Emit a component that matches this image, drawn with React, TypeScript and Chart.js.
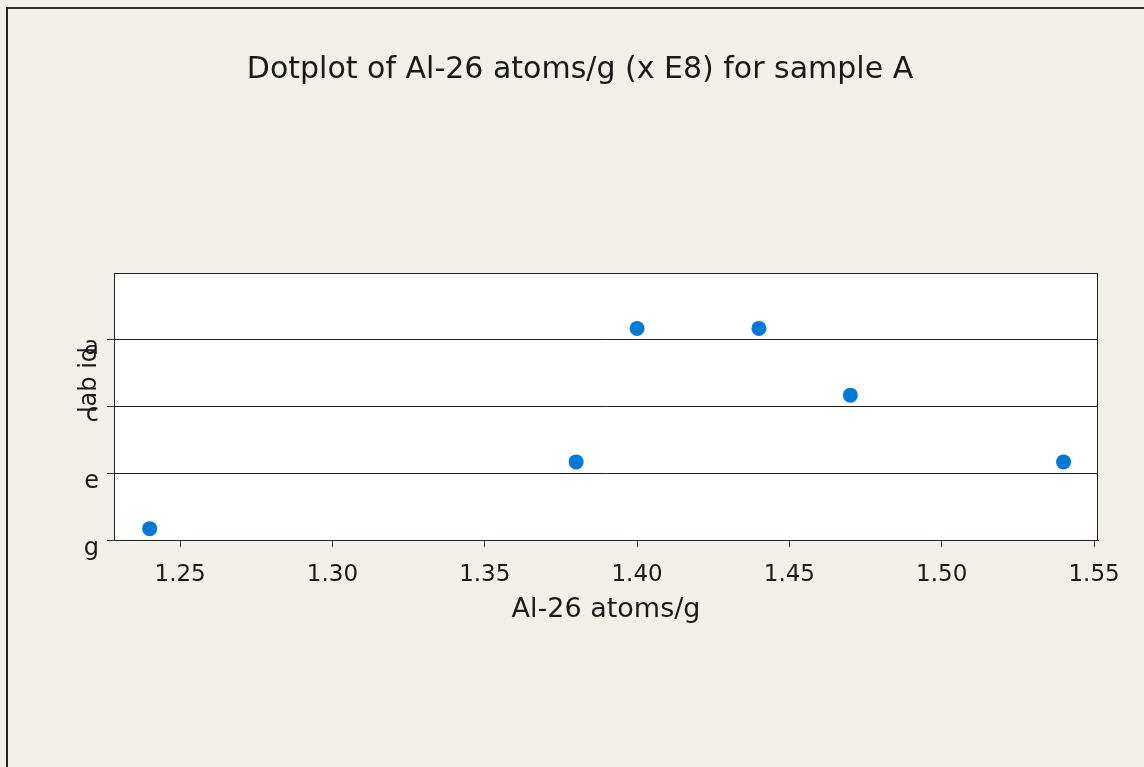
import React, { useEffect, useRef } from "react";
import { Chart, registerables } from "chart.js";

Chart.register(...registerables);

// Data
const labCategories = ["g", "e", "c", "a"]; // bottom to top
const sampleLabs = ["g", "e", "e", "c", "a", "a"];
const sampleAtoms = [1.24, 1.38, 1.54, 1.47, 1.4, 1.44];
const xTickValues = [1.25, 1.3, 1.35, 1.4, 1.45, 1.5, 1.55];
const chartTitle = "Dotplot of Al-26 atoms/g (x E8) for sample A";
const xTitle = "Al-26 atoms/g";
const yTitle = "lab id";

const DOT_OFFSET = 0.17;
const FONT = '"DejaVu Sans", Verdana, sans-serif';
const BG = "#F2EFE8";
const TEXT = "#1a1a1a";

const framePlugin = {
  id: "frame",
  beforeDraw(chart: any) {
    const { ctx, chartArea: a } = chart;
    ctx.save();
    ctx.fillStyle = "#ffffff";
    ctx.fillRect(a.left, a.top, a.right - a.left, a.bottom - a.top);
    ctx.restore();
  },
  afterDraw(chart: any) {
    const { ctx, chartArea: a } = chart;
    const yScale = chart.scales.y;
    ctx.save();
    ctx.strokeStyle = "#222";
    ctx.lineWidth = 1;
    ctx.strokeRect(a.left + 0.5, a.top + 0.5, a.right - a.left - 1, a.bottom - a.top);
    // y category labels (sit just below their grid line)
    ctx.fillStyle = TEXT;
    ctx.textAlign = "right";
    ctx.textBaseline = "alphabetic";
    ctx.font = `24px ${FONT}`;
    labCategories.forEach((lab, i) => {
      const py = yScale.getPixelForValue(i);
      ctx.fillText(lab, a.left - 15, py + 14.5);
    });
    // titles
    ctx.textAlign = "center";
    ctx.font = `30px ${FONT}`;
    ctx.fillText(chartTitle, 580, 78);
    ctx.font = `27px ${FONT}`;
    ctx.fillText(xTitle, (a.left + a.right) / 2, 617);
    ctx.translate(96, 380);
    ctx.rotate(-Math.PI / 2);
    ctx.font = `24px ${FONT}`;
    ctx.fillText(yTitle, 0, 0);
    ctx.restore();
  },
};

export default function App() {
  const ref = useRef<HTMLCanvasElement>(null);

  useEffect(() => {
    if (!ref.current) return;
    const points = sampleAtoms.map((v, i) => ({
      x: v,
      y: labCategories.indexOf(sampleLabs[i]) + DOT_OFFSET,
    }));
    const chart = new Chart(ref.current, {
      type: "scatter",
      data: {
        datasets: [
          {
            data: points,
            backgroundColor: "#0078D7",
            borderColor: "#0078D7",
            pointRadius: 7.5,
            pointHoverRadius: 7.5,
            borderWidth: 0,
          },
        ],
      },
      options: {
        animation: false,
        responsive: false,
        events: [],
        layout: { padding: { top: 273, right: 46, bottom: 0, left: 0 } },
        plugins: {
          legend: { display: false },
          title: { display: false },
          tooltip: { enabled: false },
        },
        scales: {
          x: {
            type: "linear",
            min: 1.2283,
            max: 1.5513,
            afterBuildTicks: (s: any) => {
              s.ticks = xTickValues.map((v) => ({ value: v }));
            },
            afterFit: (s: any) => {
              s.height = 227;
            },
            ticks: {
              callback: (v: any) => Number(v).toFixed(2),
              color: TEXT,
              font: { family: FONT, size: 23 },
              padding: 14,
              maxRotation: 0,
            },
            grid: {
              drawOnChartArea: false,
              drawTicks: true,
              tickLength: 7,
              tickColor: "#333",
            },
            border: { display: true, color: "#222" },
          },
          y: {
            type: "linear",
            min: 0,
            max: labCategories.length,
            afterBuildTicks: (s: any) => {
              s.ticks = labCategories.map((_, i) => ({ value: i }));
            },
            afterFit: (s: any) => {
              s.width = 114;
            },
            ticks: {
              display: false,
            },
            grid: {
              color: "#222",
              lineWidth: 1,
              tickLength: 7,
              tickColor: "#333",
            },
            border: { display: true, color: "#222" },
          },
        },
      },
      plugins: [framePlugin],
    });
    return () => chart.destroy();
  }, []);

  return (
    <div
      style={{
        position: "absolute",
        left: 0,
        top: 0,
        width: 1144,
        height: 767,
        background: BG,
        overflow: "hidden",
      }}
    >
      <div
        style={{
          position: "absolute",
          left: 6,
          top: 7,
          right: -10,
          bottom: -10,
          borderTop: "2px solid #333",
          borderLeft: "2px solid #222",
        }}
      />
      <canvas
        ref={ref}
        width={1144}
        height={767}
        style={{ position: "absolute", left: 0, top: 0, width: 1144, height: 767 }}
      />
    </div>
  );
}
